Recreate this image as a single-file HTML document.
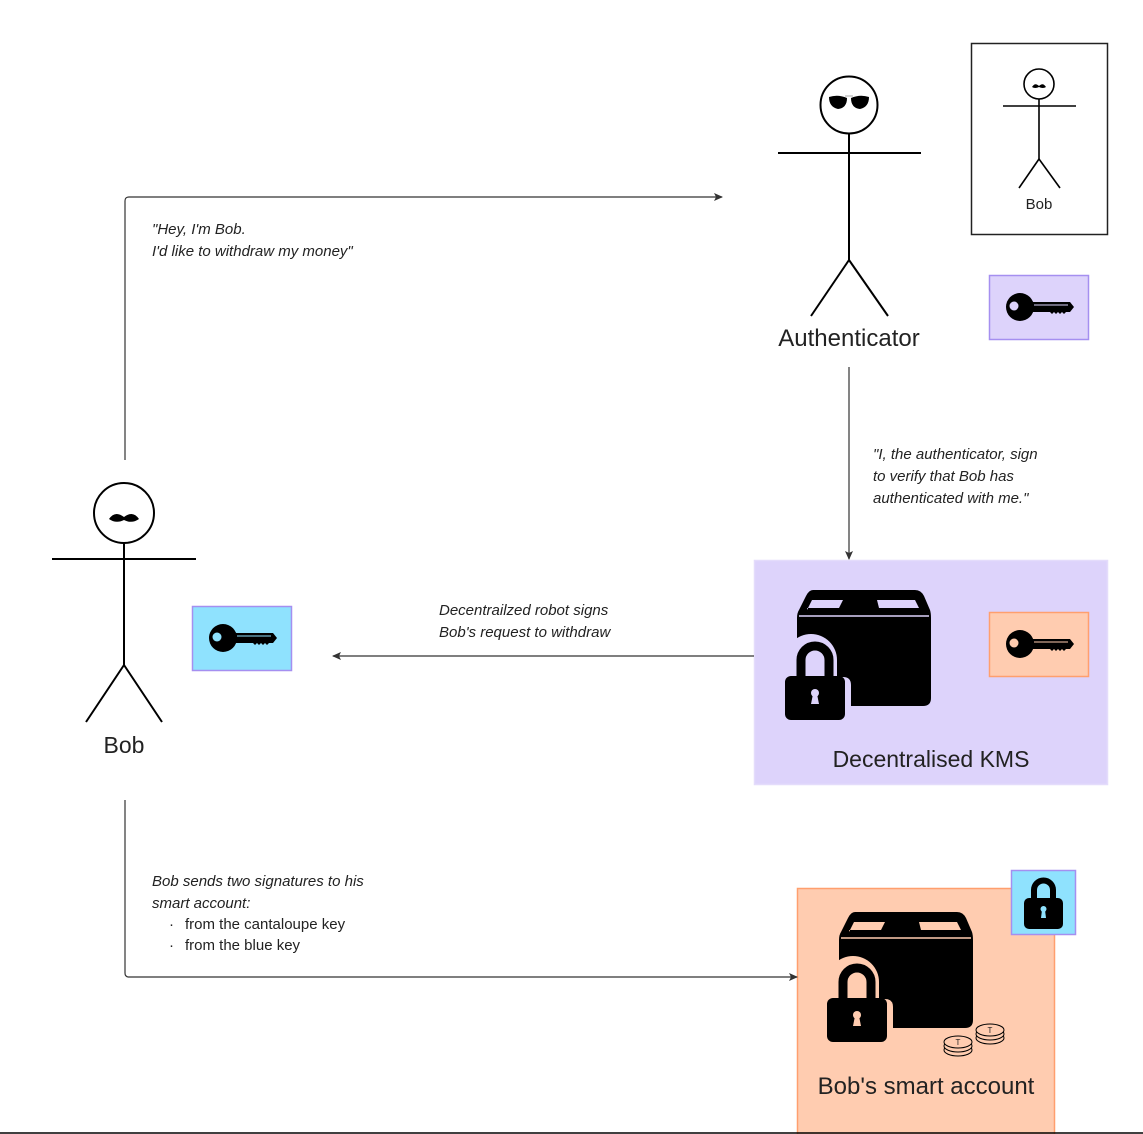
<!DOCTYPE html>
<html><head><meta charset="utf-8"><style>
html,body{margin:0;padding:0;background:#fff;}
svg{display:block;}
text{font-family:"Liberation Sans",sans-serif;fill:#222;}
.it{font-style:italic;font-size:15px;}
</style></head><body>
<svg width="1143" height="1134" viewBox="0 0 1143 1134" xmlns="http://www.w3.org/2000/svg">
<defs>
<marker id="ar" markerWidth="10" markerHeight="10" refX="8" refY="5" orient="auto" markerUnits="userSpaceOnUse">
<path d="M0,1 L9,5 L0,9 L2,5 Z" fill="#333"/>
</marker>
<g id="key">
<circle cx="0" cy="0" r="14" fill="#000"/>
<circle cx="-6" cy="-1" r="4.5" fill="currentColor"/>
<path d="M10,-5 H50 L54,0 L50,5 H46 L44,7 L42,5 L40,7 L38,5 L36,7 L34,5 L32,7 L30,5 H10 Z" fill="#000"/>
<line x1="14" y1="-2" x2="48" y2="-2" stroke="currentColor" stroke-width="1"/>
</g>
<g id="boxlock">
<path d="M16,0 H118 Q124,0 127,6 L133,20 Q134,23 134,28 V108 Q134,116 126,116 H8 Q0,116 0,108 V28 Q0,23 2,20 L9,6 Q12,0 16,0 Z" fill="#000"/>
<path d="M10,20 L15,10 H46 L42,18 H10 Z" fill="currentColor"/>
<path d="M80,10 H118 L122,18 H82 Z" fill="currentColor"/>
<path d="M2,26 H132" stroke="currentColor" stroke-width="1.5"/>
<path d="M-24,128 V95 Q-24,87 -16,87 H-12 V70 A26,26 0 0 1 40,70 V87 H46 Q54,87 54,95 V128 Q54,136 46,136 H-16 Q-24,136 -24,128 Z" fill="currentColor"/>
<path d="M4,88 V70 A14,14 0 0 1 32,70 V88" fill="none" stroke="#000" stroke-width="9"/>
<rect x="-12" y="86" width="60" height="44" rx="6" fill="#000"/>
<circle cx="18" cy="103" r="4" fill="currentColor"/>
<path d="M16,104 L14,114 H22 L20,104 Z" fill="currentColor"/>
</g>
</defs>

<!-- Authenticator -->
<g stroke="#000" stroke-width="2" fill="none">
<circle cx="849" cy="105" r="28.5"/>
<line x1="849" y1="134" x2="849" y2="260"/>
<line x1="778" y1="153" x2="921" y2="153"/>
<line x1="849" y1="260" x2="811" y2="316"/>
<line x1="849" y1="260" x2="888" y2="316"/>
</g>
<path d="M829,97 Q838,94 847,98 Q847,108 838,109 Q829,107 829,97 Z M851,98 Q860,94 869,97 Q869,107 860,109 Q851,108 851,98 Z" fill="#000"/>
<line x1="845" y1="96" x2="853" y2="96" stroke="#aaa" stroke-width="1"/>
<text x="849" y="346" font-size="24" text-anchor="middle">Authenticator</text>

<!-- Bob box -->
<rect x="971.5" y="43.5" width="136" height="191" fill="#fff" stroke="#222" stroke-width="1.5"/>
<g stroke="#000" stroke-width="1.6" fill="none">
<circle cx="1039" cy="84" r="15"/>
<line x1="1039" y1="99" x2="1039" y2="159"/>
<line x1="1003" y1="106" x2="1076" y2="106"/>
<line x1="1039" y1="159" x2="1019" y2="188"/>
<line x1="1039" y1="159" x2="1060" y2="188"/>
</g>
<path d="M1032,87 Q1035,82 1039,86 Q1043,82 1046,87 Q1043,89 1039,87 Q1035,89 1032,87 Z" fill="#000"/>
<text x="1039" y="209" font-size="15" text-anchor="middle">Bob</text>

<!-- purple key -->
<rect x="989.5" y="275.5" width="99" height="64" fill="#ddd3fb" stroke="#a58ff0" stroke-width="1.5"/>
<use href="#key" x="1020" y="307" style="color:#ddd3fb"/>

<!-- Bob -->
<g stroke="#000" stroke-width="2" fill="none">
<circle cx="124" cy="513" r="30"/>
<line x1="124" y1="543" x2="124" y2="665"/>
<line x1="52" y1="559" x2="196" y2="559"/>
<line x1="124" y1="665" x2="86" y2="722"/>
<line x1="124" y1="665" x2="162" y2="722"/>
</g>
<path d="M109,519 Q115,510 124,517 Q133,510 139,519 Q132,524 124,520 Q116,524 109,519 Z" fill="#000"/>
<text x="124" y="753" font-size="23" text-anchor="middle">Bob</text>

<!-- blue key -->
<rect x="192.5" y="606.5" width="99" height="64" fill="#8fe2fe" stroke="#a58ff0" stroke-width="1.5"/>
<use href="#key" x="223" y="638" style="color:#8fe2fe"/>

<!-- KMS -->
<rect x="754.5" y="560.5" width="353" height="224" fill="#ddd3fb" stroke="#e4dcfb" stroke-width="1.5"/>
<use href="#boxlock" x="797" y="590" style="color:#ddd3fb"/>
<rect x="989.5" y="612.5" width="99" height="64" fill="#ffccb0" stroke="#ff9f6e" stroke-width="1.5"/>
<use href="#key" x="1020" y="644" style="color:#ffccb0"/>
<text x="931" y="767" font-size="23" text-anchor="middle">Decentralised KMS</text>

<!-- Smart account -->
<rect x="797.5" y="888.5" width="257" height="250" fill="#ffccb0" stroke="#ff9f6e" stroke-width="1.5"/>
<use href="#boxlock" x="839" y="912" style="color:#ffccb0"/>
<g fill="#ffccb0" stroke="#000" stroke-width="1">
<ellipse cx="958" cy="1050" rx="14" ry="6"/><ellipse cx="958" cy="1046" rx="14" ry="6"/><ellipse cx="958" cy="1042" rx="14" ry="6"/>
<ellipse cx="990" cy="1038" rx="14" ry="6"/><ellipse cx="990" cy="1034" rx="14" ry="6"/><ellipse cx="990" cy="1030" rx="14" ry="6"/>
</g>
<text x="958" y="1045" font-size="8" text-anchor="middle">T</text>
<text x="990" y="1033" font-size="8" text-anchor="middle">T</text>
<text x="926" y="1094" font-size="24" text-anchor="middle">Bob's smart account</text>
<rect x="1011.5" y="870.5" width="64" height="64" fill="#8fe2fe" stroke="#a58ff0" stroke-width="1.5"/>
<path d="M1034,900 V890 A9.5,9.5 0 0 1 1053,890 V900" fill="none" stroke="#000" stroke-width="6"/>
<rect x="1024" y="898" width="39" height="31" rx="5" fill="#000"/>
<circle cx="1043.5" cy="909" r="3" fill="#8fe2fe"/>
<path d="M1042,910 L1041,918 H1046 L1045,910 Z" fill="#8fe2fe"/>

<!-- connectors -->
<g stroke="#333" stroke-width="1.2" fill="none">
<path d="M125,460 V201 Q125,197 129,197 H722" marker-end="url(#ar)"/>
<path d="M849,367 V559" marker-end="url(#ar)"/>
<path d="M754,656 H333" marker-end="url(#ar)"/>
<path d="M125,800 V973 Q125,977 129,977 H797" marker-end="url(#ar)"/>
</g>
<line x1="0" y1="1133" x2="1143" y2="1133" stroke="#000" stroke-width="1.5"/>

<text class="it" x="152" y="234">"Hey, I'm Bob.</text>
<text class="it" x="152" y="256">I'd like to withdraw my money"</text>
<text class="it" x="873" y="459">"I, the authenticator, sign</text>
<text class="it" x="873" y="481">to verify that Bob has</text>
<text class="it" x="873" y="503">authenticated with me."</text>
<text class="it" x="439" y="615">Decentrailzed robot signs</text>
<text class="it" x="439" y="637">Bob's request to withdraw</text>
<text class="it" x="152" y="886">Bob sends two signatures to his</text>
<text class="it" x="152" y="908">smart account:</text>
<text x="169" y="929" font-size="15">·</text>
<text x="185" y="929" font-size="15">from the cantaloupe key</text>
<text x="169" y="950" font-size="15">·</text>
<text x="185" y="950" font-size="15">from the blue key</text>
</svg>
</body></html>
